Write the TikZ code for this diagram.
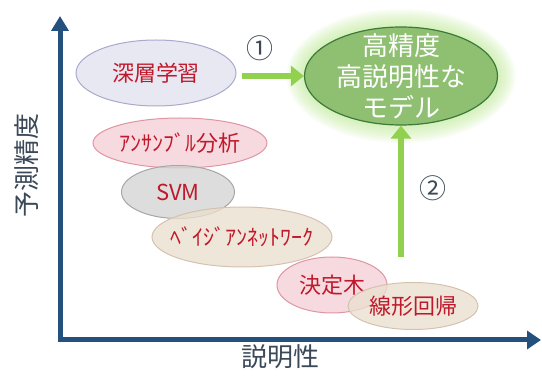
\documentclass[tikz,border=0pt]{standalone}
\usepackage{fontspec}
\setmainfont{Noto Sans CJK JP}
\usetikzlibrary{arrows.meta,shapes.geometric}
\definecolor{axisblue}{HTML}{24507E}
\definecolor{labelgray}{HTML}{3B4858}
\definecolor{redtxt}{HTML}{C0192B}
\definecolor{arrowgreen}{HTML}{92D050}
\definecolor{goalfill}{HTML}{8FC072}
\definecolor{goaledge}{HTML}{3D7A3A}
\definecolor{glowgreen}{HTML}{B8E68C}
\definecolor{lavfill}{HTML}{E2E2F0}
\definecolor{lavedge}{HTML}{A9A9CF}
\definecolor{pinkfill}{HTML}{F5CFD7}
\definecolor{pinkedge}{HTML}{DE95A4}
\definecolor{grayfill}{HTML}{D3D3D3}
\definecolor{grayedge}{HTML}{A6A6A6}
\definecolor{beigefill}{HTML}{EBDFD0}
\definecolor{beigeedge}{HTML}{D5C2AE}
\tikzset{
  blob/.style={ellipse, inner sep=0pt, line width=1pt, fill opacity=0.78},
  redlabel/.style={text=redtxt, font=\fontsize{22}{26}\selectfont, text opacity=1},
  axisline/.style={draw=axisblue, line width=5pt, line join=miter},
  garrow/.style={draw=arrowgreen, line width=6.5pt, -{Triangle[length=13pt,width=20pt]}},
  axislabel/.style={text=labelgray, font=\fontsize{26}{30}\selectfont, inner sep=0pt},
  numlabel/.style={text=labelgray, font=\fontsize{27}{30}\selectfont, inner sep=0pt},
}
\begin{document}
\begin{tikzpicture}[x=1pt,y=-1pt]
\useasboundingbox (0,0) rectangle (542,382);
% axes
\coordinate (ytop) at (60,16);
\coordinate (origin) at (60,340);
\coordinate (xend) at (541,340);
\draw[axisline, {Triangle[length=15pt,width=17pt]}-{Triangle[length=14pt,width=18pt]}] (ytop) -- (origin) -- (xend);
\node[axislabel] (xlab) at (280,357) {説明性};
\node[axislabel, rotate=90] (ylab) at (27,166) {予測精度};
% method ellipses
\node[blob, fill=lavfill, draw=lavedge, minimum width=160pt, minimum height=66pt,
      label={[redlabel]center:深層学習}] (dl) at (156,73) {};
\node[blob, fill=pinkfill, draw=pinkedge, minimum width=174pt, minimum height=50pt,
      label={[redlabel]center:ｱﾝｻﾝﾌﾞﾙ分析}] (ens) at (180,143) {};
\node[blob, fill=grayfill, draw=grayedge, minimum width=113pt, minimum height=53pt,
      label={[redlabel]center:SVM}] (svm) at (178,192) {};
\node[blob, fill=beigefill, draw=beigeedge, minimum width=180pt, minimum height=60pt,
      label={[redlabel]center:ﾍﾞｲｼﾞｱﾝﾈｯﾄﾜｰｸ}] (bn) at (242,237) {};
\node[blob, fill=pinkfill, draw=pinkedge, minimum width=110pt, minimum height=56pt,
      label={[redlabel]center:決定木}] (dt) at (332,285) {};
\node[blob, fill=beigefill, draw=beigeedge, minimum width=130pt, minimum height=47pt,
      label={[redlabel]center:線形回帰}] (lr) at (413,306) {};
% goal glow
\foreach \r in {2,4,...,18} {
  \fill[glowgreen, opacity=0.09] (401,76) ellipse ({96.5pt+\r pt} and {49pt+\r pt});
}
\node[ellipse, inner sep=0pt, minimum width=193pt, minimum height=98pt,
      fill=goalfill, draw=goaledge, line width=1.2pt] (goal) at (401,76) {};
\node[text=white, align=center, font=\fontsize{26}{31}\selectfont, inner sep=0pt] (goaltext) at (goal.center) {高精度\\高説明性な\\モデル};
% arrows
\coordinate (a2start) at (401,257);
\draw[garrow] ([xshift=5pt]dl.east |- goal.west) -- (goal.west);
\draw[garrow] (a2start) -- (goal.south);
\node[numlabel] (n1) at (260,48) {①};
\node[numlabel] (n2) at (433,188) {②};
\end{tikzpicture}
\end{document}
